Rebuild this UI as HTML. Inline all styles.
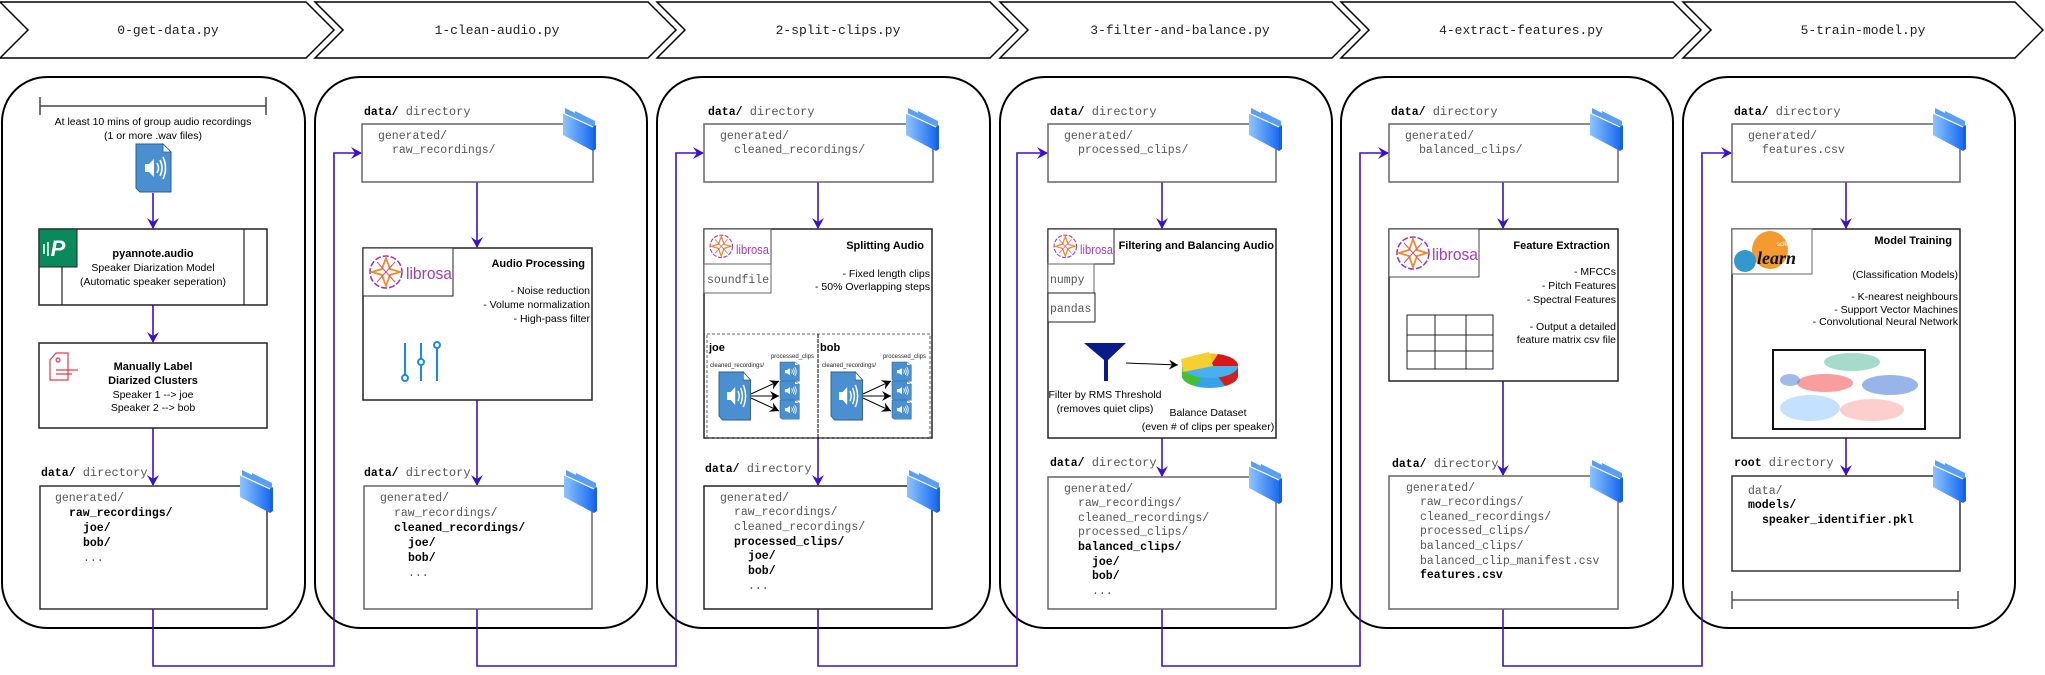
<!DOCTYPE html>
<html><head><meta charset="utf-8"><style>
html,body{margin:0;padding:0;background:#fff;}
svg{display:block;}
.m{font-family:"Liberation Mono",monospace;font-size:11.5px;fill:#555;}
.mb{font-family:"Liberation Mono",monospace;font-size:11.5px;fill:#000;font-weight:bold;}
.s{font-family:"Liberation Sans",sans-serif;font-size:10.5px;fill:#000;}
.sb{font-family:"Liberation Sans",sans-serif;font-size:11px;fill:#000;font-weight:bold;}
.c{font-family:"Liberation Mono",monospace;font-size:13px;fill:#222;}
.lbl{font-family:"Liberation Mono",monospace;font-size:12px;fill:#555;}
</style></head><body>
<svg width="2045" height="675" viewBox="0 0 2045 675" xmlns="http://www.w3.org/2000/svg">
<defs>
<marker id="ar" markerWidth="12" markerHeight="12" refX="10" refY="6" orient="auto" markerUnits="userSpaceOnUse">
<path d="M0,0 L11,6 L0,12 L4,6 Z" fill="#3a0fd0"/></marker>
<marker id="ak" markerWidth="10" markerHeight="10" refX="9" refY="5" orient="auto" markerUnits="userSpaceOnUse">
<path d="M0,0 L9,5 L0,10 L3,5 Z" fill="#000"/></marker>
<linearGradient id="fg" x1="0" x2="1" y1="0" y2="0"><stop offset="0" stop-color="#8ec4ff"/><stop offset="1" stop-color="#1a6cf0"/></linearGradient>
<g id="folder">
<path d="M2,0 L12,5 L12,3 L22,8 L32,13 L32,38 L2,20 Z" fill="#5a9ef5"/>
<path d="M0,5 L30,19 L30,43 L0,27 Z" fill="url(#fg)"/>
<path d="M0,5 L30,19" stroke="#fff" stroke-width="1.2"/>
<path d="M30,19 L33,17 L33,41 L30,43 Z" fill="#1a60e0"/>
</g>
<g id="wav">
<path d="M0,0 L27,0 L35,8 L35,48 L4,48 L0,44 Z" fill="#4a90d0" stroke="#2c5d8a" stroke-width="1"/>
<path d="M27,0 L27,8 L35,8 Z" fill="#fff" stroke="#2c5d8a" stroke-width="0.8"/>
<path d="M9,20 L13,20 L18,15 L18,33 L13,28 L9,28 Z" fill="#fff"/>
<path d="M21,19 Q24,24 21,29 M24,16 Q28,24 24,32 M27,13 Q32,24 27,35" stroke="#fff" stroke-width="1.6" fill="none"/>
</g>
<g id="lib">
<circle cx="19" cy="19" r="16" fill="none" stroke="#9b30c0" stroke-width="1.5" stroke-dasharray="6 2"/>
<path d="M19,5 L23,16 L33,19 L23,22 L19,33 L15,22 L5,19 L15,16 Z" fill="none" stroke="#f28a2a" stroke-width="1.8"/>
<path d="M10,9 L28,29 M28,9 L10,29" stroke="#e24a6a" stroke-width="1"/>
</g>
</defs>

<g fill="#fff" stroke="#000" stroke-width="1.5">
<path d="M0,2 L306,2 L334,30 L306,58 L0,58 L28,30 Z"/>
<path d="M315,2 L648,2 L676,30 L648,58 L315,58 L343,30 Z"/>
<path d="M657,2 L990,2 L1018,30 L990,58 L657,58 L685,30 Z"/>
<path d="M1000,2 L1332,2 L1360,30 L1332,58 L1000,58 L1028,30 Z"/>
<path d="M1341,2 L1673,2 L1701,30 L1673,58 L1341,58 L1369,30 Z"/>
<path d="M1683,2 L2015,2 L2043,30 L2015,58 L1683,58 L1711,30 Z"/>
</g>
<g class="c" text-anchor="middle">
<text x="168" y="34">0-get-data.py</text>
<text x="497" y="34">1-clean-audio.py</text>
<text x="838" y="34">2-split-clips.py</text>
<text x="1180" y="34">3-filter-and-balance.py</text>
<text x="1521" y="34">4-extract-features.py</text>
<text x="1863" y="34">5-train-model.py</text>
</g>

<g fill="none" stroke="#000" stroke-width="2">
<rect x="2" y="77" width="303" height="551" rx="45"/>
<rect x="315" y="77" width="332" height="551" rx="45"/>
<rect x="657" y="77" width="333" height="551" rx="45"/>
<rect x="1000" y="77" width="332" height="551" rx="45"/>
<rect x="1341" y="77" width="332" height="551" rx="45"/>
<rect x="1683" y="77" width="332" height="551" rx="45"/>
</g>

<g fill="none" stroke="#3a0fd0" stroke-width="1.6" marker-end="url(#ar)">
<path d="M153,609 V666 H334 V153 H361"/>
<path d="M477,609 V666 H676 V153 H703"/>
<path d="M818,609 V666 H1017 V153 H1047"/>
<path d="M1162,609 V666 H1360 V153 H1388"/>
<path d="M1503,609 V666 H1702 V153 H1731"/>
<path d="M153,193 V228"/><path d="M153,305 V342"/><path d="M153,428 V485"/>
<path d="M477,182 V247"/><path d="M477,400 V485"/>
<path d="M818,182 V228"/><path d="M818,438 V485"/>
<path d="M1162,182 V228"/><path d="M1162,438 V476"/>
<path d="M1503,182 V228"/><path d="M1503,381 V475"/>
<path d="M1846,182 V228"/><path d="M1846,438 V475"/>
</g>

<!-- PANEL 0 -->
<g stroke="#444" stroke-width="1.5"><path d="M40,106 H266 M40,97 V115 M266,97 V115"/></g>
<text class="s" x="153" y="125" text-anchor="middle" font-size="9.5">At least 10 mins of group audio recordings</text>
<text class="s" x="153" y="139" text-anchor="middle" font-size="9.5">(1 or more .wav files)</text>
<use href="#wav" x="136" y="144"/>
<rect x="39" y="229" width="228" height="76" fill="#fff" stroke="#222" stroke-width="1.5"/>
<path d="M62,267 V305 M244,229 V305" stroke="#222" stroke-width="1.2"/>
<rect x="39" y="229" width="38" height="38" fill="#0a8a5c" stroke="#222"/>
<text x="58" y="256" text-anchor="middle" font-family="Liberation Sans,sans-serif" font-weight="bold" font-style="italic" font-size="22" fill="#fff">P</text>
<path d="M44,244 V254 M48,242 V256" stroke="#fff" stroke-width="1.5"/>
<text class="sb" x="153" y="257" text-anchor="middle">pyannote.audio</text>
<text class="s" x="153" y="271" text-anchor="middle">Speaker Diarization Model</text>
<text class="s" x="153" y="285" text-anchor="middle">(Automatic speaker seperation)</text>
<rect x="39" y="343" width="228" height="85" fill="#fff" stroke="#222" stroke-width="1.5"/>
<path d="M50,360 L56,353 H68 V380 H50 Z M58,358 a2,2 0 1 0 0.1,0 M56,370 H78 M56,374 H72" fill="none" stroke="#e23a4a" stroke-width="1.2"/>
<text class="sb" x="153" y="370" text-anchor="middle">Manually Label</text>
<text class="sb" x="153" y="384" text-anchor="middle">Diarized Clusters</text>
<text class="s" x="153" y="398" text-anchor="middle">Speaker 1 --&gt; joe</text>
<text class="s" x="153" y="411" text-anchor="middle">Speaker 2 --&gt; bob</text>
<text class="lbl" x="41" y="476"><tspan class="mb" font-size="12">data/</tspan> directory</text>
<rect x="40" y="486" width="227" height="123" fill="#fff" stroke="#333" stroke-width="1.5"/>
<use href="#folder" x="240" y="470"/>
<text class="m" x="55" y="501">generated/</text>
<text class="mb" x="69" y="516">raw_recordings/</text>
<text class="mb" x="83" y="531">joe/</text>
<text class="mb" x="83" y="546">bob/</text>
<text class="m" x="83" y="561">...</text>

<!-- PANEL 1 -->
<text class="lbl" x="364" y="115"><tspan class="mb" font-size="12">data/</tspan> directory</text>
<rect x="362" y="124" width="231" height="58" fill="#fff" stroke="#666" stroke-width="1.5"/>
<use href="#folder" x="563" y="108"/>
<text class="m" x="378" y="139">generated/</text>
<text class="m" x="392" y="153">raw_recordings/</text>
<rect x="363" y="248" width="229" height="152" fill="#fff" stroke="#222" stroke-width="1.5"/>
<rect x="363" y="248" width="90" height="48" fill="#fff" stroke="#222" stroke-width="1"/>
<use href="#lib" x="367" y="253"/>
<text x="406" y="279" font-family="Liberation Sans,sans-serif" font-size="17" fill="#a33cb8" textLength="46" lengthAdjust="spacingAndGlyphs">librosa</text>
<text class="sb" x="585" y="267" text-anchor="end">Audio Processing</text>
<g class="s" text-anchor="end"><text x="590" y="294">- Noise reduction</text><text x="590" y="308">- Volume normalization</text><text x="590" y="322">- High-pass filter</text></g>
<g stroke="#1a88f0" stroke-width="2" fill="#fff"><path d="M405,343 V377 M421,343 V381 M437,348 V381"/><circle cx="405" cy="378" r="3"/><circle cx="421" cy="362" r="3"/><circle cx="437" cy="345" r="3"/></g>
<text class="lbl" x="364" y="476"><tspan class="mb" font-size="12">data/</tspan> directory</text>
<rect x="364" y="486" width="228" height="123" fill="#fff" stroke="#666" stroke-width="1.5"/>
<use href="#folder" x="564" y="470"/>
<text class="m" x="380" y="501">generated/</text>
<text class="m" x="394" y="516">raw_recordings/</text>
<text class="mb" x="394" y="531">cleaned_recordings/</text>
<text class="mb" x="408" y="546">joe/</text>
<text class="mb" x="408" y="561">bob/</text>
<text class="m" x="408" y="576">...</text>

<!-- PANEL 2 -->
<text class="lbl" x="708" y="115"><tspan class="mb" font-size="12">data/</tspan> directory</text>
<rect x="704" y="124" width="229" height="58" fill="#fff" stroke="#666" stroke-width="1.5"/>
<use href="#folder" x="906" y="108"/>
<text class="m" x="720" y="139">generated/</text>
<text class="m" x="734" y="153">cleaned_recordings/</text>
<rect x="704" y="229" width="228" height="209" fill="#fff" stroke="#222" stroke-width="1.5"/>
<rect x="704" y="229" width="67" height="35" fill="#fff" stroke="#444" stroke-width="1"/>
<rect x="704" y="264" width="67" height="29" fill="#fff" stroke="#666" stroke-width="1"/>
<use href="#lib" transform="translate(708,233) scale(0.7)"/>
<text x="736" y="254" font-family="Liberation Sans,sans-serif" font-size="13" fill="#a33cb8" textLength="33" lengthAdjust="spacingAndGlyphs">librosa</text>
<text class="m" x="707" y="283" font-size="11">soundfile</text>
<text class="sb" x="924" y="249" text-anchor="end">Splitting Audio</text>
<g class="s" text-anchor="end"><text x="930" y="277">- Fixed length clips</text><text x="930" y="290">- 50% Overlapping steps</text></g>
<rect x="707" y="334" width="223" height="104" fill="none" stroke="#666" stroke-width="1" stroke-dasharray="3 2"/>
<path d="M818,334 V438" stroke="#000" stroke-width="1" stroke-dasharray="4 1"/>
<text class="sb" x="709" y="351" font-size="10">joe</text><text class="sb" x="820" y="351" font-size="10">bob</text>
<g font-family="Liberation Sans,sans-serif" font-size="6" fill="#222">
<text x="814" y="358" text-anchor="end">processed_clips</text><text x="710" y="367">cleaned_recordings/</text>
<text x="926" y="358" text-anchor="end">processed_clips</text><text x="822" y="367">cleaned_recordings/</text></g>
<use href="#wav" transform="translate(719,372) scale(0.9,1)"/>
<use href="#wav" transform="translate(831,372) scale(0.9,1)"/>
<g><use href="#wav" transform="translate(780,362) scale(0.55,0.4)"/><use href="#wav" transform="translate(780,381) scale(0.55,0.4)"/><use href="#wav" transform="translate(780,400) scale(0.55,0.4)"/>
<use href="#wav" transform="translate(892,362) scale(0.55,0.4)"/><use href="#wav" transform="translate(892,381) scale(0.55,0.4)"/><use href="#wav" transform="translate(892,400) scale(0.55,0.4)"/></g>
<g stroke="#000" stroke-width="1" marker-end="url(#ak)"><path d="M751,394 L779,381"/><path d="M751,396 L779,396"/><path d="M751,398 L779,411"/><path d="M863,394 L891,381"/><path d="M863,396 L891,396"/><path d="M863,398 L891,411"/></g>
<text class="lbl" x="705" y="472"><tspan class="mb" font-size="12">data/</tspan> directory</text>
<rect x="704" y="486" width="228" height="123" fill="#fff" stroke="#222" stroke-width="1.5"/>
<use href="#folder" x="907" y="470"/>
<text class="m" x="720" y="501">generated/</text>
<text class="m" x="734" y="515">raw_recordings/</text>
<text class="m" x="734" y="530">cleaned_recordings/</text>
<text class="mb" x="734" y="545">processed_clips/</text>
<text class="mb" x="748" y="559">joe/</text>
<text class="mb" x="748" y="574">bob/</text>
<text class="m" x="748" y="589">...</text>

<!-- PANEL 3 -->
<text class="lbl" x="1050" y="115"><tspan class="mb" font-size="12">data/</tspan> directory</text>
<rect x="1048" y="124" width="228" height="58" fill="#fff" stroke="#666" stroke-width="1.5"/>
<use href="#folder" x="1249" y="108"/>
<text class="m" x="1064" y="139">generated/</text>
<text class="m" x="1078" y="153">processed_clips/</text>
<rect x="1048" y="229" width="228" height="209" fill="#fff" stroke="#222" stroke-width="1.5"/>
<rect x="1048" y="229" width="66" height="35" fill="#fff" stroke="#222" stroke-width="1"/>
<rect x="1048" y="264" width="46" height="29" fill="#fff" stroke="#666" stroke-width="1"/>
<rect x="1048" y="293" width="47" height="29" fill="#fff" stroke="#222" stroke-width="1"/>
<use href="#lib" transform="translate(1052,233) scale(0.7)"/>
<text x="1080" y="254" font-family="Liberation Sans,sans-serif" font-size="13" fill="#a33cb8" textLength="33" lengthAdjust="spacingAndGlyphs">librosa</text>
<text class="m" x="1050" y="283" font-size="11">numpy</text>
<text class="m" x="1050" y="312" font-size="11">pandas</text>
<text class="sb" x="1274" y="249" text-anchor="end">Filtering and Balancing Audio</text>
<path d="M1084,343 H1126 L1108,360 V381 H1104 V360 Z" fill="#0a1a8a"/>
<path d="M1126,363 L1178,365" stroke="#000" stroke-width="1" marker-end="url(#ak)"/>
<ellipse cx="1210" cy="376" rx="28" ry="12" fill="#3aa0e8"/>
<path d="M1182,366 L1182,376 A28,12 0 0 0 1195,386 L1210,366 Z" fill="#44c030"/>
<path d="M1210,366 L1238,366 L1238,376 A28,12 0 0 1 1225,386 Z" fill="#d02020"/>
<ellipse cx="1210" cy="366" rx="28" ry="12" fill="#48b0f0"/>
<path d="M1210,366 L1238,366 A28,12 0 0 0 1218,354 Z" fill="#d81818"/>
<path d="M1210,366 L1218,354 A28,12 0 0 0 1182,366 Z" fill="#f2c020"/>
<path d="M1181,359 L1209,352 L1213,366 L1183,372 Z" fill="#f5d030"/>
<g class="s" text-anchor="middle" font-size="9.5"><text x="1105" y="398">Filter by RMS Threshold</text><text x="1105" y="412">(removes quiet clips)</text>
<text x="1208" y="416">Balance Dataset</text><text x="1208" y="430">(even # of clips per speaker)</text></g>
<text class="lbl" x="1050" y="466"><tspan class="mb" font-size="12">data/</tspan> directory</text>
<rect x="1048" y="477" width="228" height="132" fill="#fff" stroke="#666" stroke-width="1.5"/>
<use href="#folder" x="1249" y="461"/>
<text class="m" x="1064" y="492">generated/</text>
<text class="m" x="1078" y="506">raw_recordings/</text>
<text class="m" x="1078" y="521">cleaned_recordings/</text>
<text class="m" x="1078" y="535">processed_clips/</text>
<text class="mb" x="1078" y="550">balanced_clips/</text>
<text class="mb" x="1092" y="565">joe/</text>
<text class="mb" x="1092" y="579">bob/</text>
<text class="m" x="1092" y="594">...</text>

<!-- PANEL 4 -->
<text class="lbl" x="1391" y="115"><tspan class="mb" font-size="12">data/</tspan> directory</text>
<rect x="1389" y="124" width="229" height="58" fill="#fff" stroke="#666" stroke-width="1.5"/>
<use href="#folder" x="1590" y="108"/>
<text class="m" x="1405" y="139">generated/</text>
<text class="m" x="1419" y="153">balanced_clips/</text>
<rect x="1389" y="229" width="229" height="152" fill="#fff" stroke="#222" stroke-width="1.5"/>
<rect x="1389" y="229" width="90" height="48" fill="#fff" stroke="#444" stroke-width="1"/>
<use href="#lib" x="1394" y="234"/>
<text x="1432" y="260" font-family="Liberation Sans,sans-serif" font-size="17" fill="#a33cb8" textLength="46" lengthAdjust="spacingAndGlyphs">librosa</text>
<text class="sb" x="1610" y="249" text-anchor="end">Feature Extraction</text>
<g class="s" text-anchor="end"><text x="1616" y="275">- MFCCs</text><text x="1616" y="289">- Pitch Features</text><text x="1616" y="303">- Spectral Features</text><text x="1616" y="330">- Output a detailed</text><text x="1616" y="343">feature matrix csv file</text></g>
<g fill="none" stroke="#222" stroke-width="1"><rect x="1407" y="315" width="86" height="54"/><path d="M1435,315 V369 M1466,315 V369 M1407,335 H1493 M1407,351 H1493"/></g>
<text class="lbl" x="1392" y="467"><tspan class="mb" font-size="12">data/</tspan> directory</text>
<rect x="1389" y="476" width="229" height="133" fill="#fff" stroke="#666" stroke-width="1.5"/>
<use href="#folder" x="1590" y="460"/>
<text class="m" x="1406" y="491">generated/</text>
<text class="m" x="1420" y="505">raw_recordings/</text>
<text class="m" x="1420" y="520">cleaned_recordings/</text>
<text class="m" x="1420" y="534">processed_clips/</text>
<text class="m" x="1420" y="549">balanced_clips/</text>
<text class="m" x="1420" y="564">balanced_clip_manifest.csv</text>
<text class="mb" x="1420" y="578">features.csv</text>

<!-- PANEL 5 -->
<text class="lbl" x="1734" y="115"><tspan class="mb" font-size="12">data/</tspan> directory</text>
<rect x="1732" y="124" width="228" height="58" fill="#fff" stroke="#666" stroke-width="1.5"/>
<use href="#folder" x="1933" y="108"/>
<text class="m" x="1748" y="139">generated/</text>
<text class="m" x="1762" y="153">features.csv</text>
<rect x="1732" y="229" width="228" height="209" fill="#fff" stroke="#222" stroke-width="1.5"/>
<rect x="1732" y="229" width="80" height="45" fill="#fff" stroke="#666" stroke-width="1"/>
<ellipse cx="1770" cy="250" rx="18" ry="19" fill="#f59a30"/>
<ellipse cx="1745" cy="261" rx="11" ry="11" fill="#3399cc"/>
<text x="1777" y="246" font-family="Liberation Sans,sans-serif" font-size="6" fill="#fff">scikit</text>
<text x="1757" y="264" font-family="Liberation Serif,serif" font-style="italic" font-weight="bold" font-size="18" fill="#111">learn</text>
<text class="sb" x="1952" y="244" text-anchor="end">Model Training</text>
<g class="s" text-anchor="end"><text x="1958" y="278">(Classification Models)</text><text x="1958" y="300">- K-nearest neighbours</text><text x="1958" y="313">- Support Vector Machines</text><text x="1958" y="325">- Convolutional Neural Network</text></g>
<rect x="1773" y="350" width="152" height="79" fill="#fff" stroke="#111" stroke-width="2"/>
<g opacity="0.85">
<ellipse cx="1852" cy="362" rx="28" ry="9" fill="#40b090" opacity="0.55"/>
<ellipse cx="1825" cy="383" rx="28" ry="9" fill="#f03030" opacity="0.55"/>
<ellipse cx="1890" cy="385" rx="28" ry="10" fill="#2060d0" opacity="0.55"/>
<ellipse cx="1810" cy="408" rx="30" ry="13" fill="#80c0ff" opacity="0.55"/>
<ellipse cx="1872" cy="410" rx="32" ry="11" fill="#f8a0a0" opacity="0.6"/>
<ellipse cx="1790" cy="380" rx="10" ry="6" fill="#2060d0" opacity="0.5"/>
</g>
<text class="lbl" x="1734" y="466"><tspan class="mb" font-size="12">root</tspan> directory</text>
<rect x="1732" y="476" width="228" height="95" fill="#fff" stroke="#333" stroke-width="1.5"/>
<use href="#folder" x="1933" y="460"/>
<text class="m" x="1748" y="494">data/</text>
<text class="mb" x="1748" y="508">models/</text>
<text class="mb" x="1762" y="523">speaker_identifier.pkl</text>
<g stroke="#555" stroke-width="1.5"><path d="M1732,600 H1958 M1732,591 V609 M1958,591 V609"/></g>
</svg>
</body></html>
